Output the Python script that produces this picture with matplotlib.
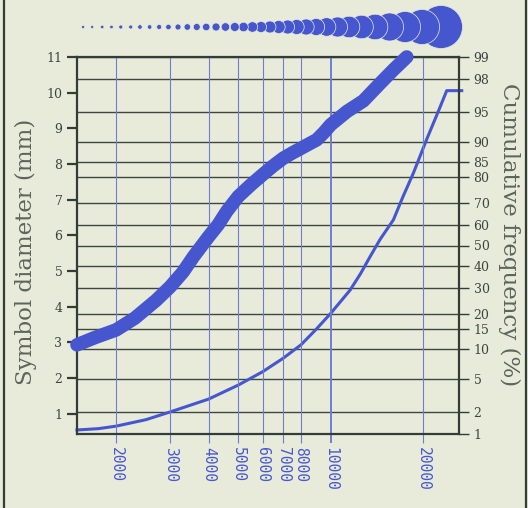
import numpy as np
import matplotlib
matplotlib.use("Agg")
import matplotlib.pyplot as plt
from matplotlib.ticker import FixedLocator, NullLocator
from matplotlib.lines import Line2D
from statistics import NormalDist

# ---------------- data ----------------
x_ticks = [2000, 3000, 4000, 5000, 6000, 7000, 8000, 10000, 20000]
x_tick_labels = ["2000", "3000", "4000", "5000", "6000", "7000", "8000", "10000", "20000"]
left_ticks = [1, 2, 3, 4, 5, 6, 7, 8, 9, 10, 11]
right_ticks = [1, 2, 5, 10, 15, 20, 30, 40, 50, 60, 70, 80, 85, 90, 95, 98, 99]
right_tick_labels = ["1", "2", "5", "10", "15", "20", "30", "40", "50", "60",
                     "70", "80", "85", "90", "95", "98", "99"]

# symbol diameter (mm) vs value (thick curve)
diam_x = [1490, 1700, 2000, 2300, 2700, 3000, 3300, 3570, 3990, 4300, 4590,
          5000, 5500, 6000, 6500, 7000, 7500, 8000, 9010, 9500, 10000, 11290,
          12780, 14490, 16010, 17700]
diam_mm = [2.93, 3.13, 3.35, 3.68, 4.18, 4.56, 4.97, 5.40, 5.95, 6.30, 6.68,
           7.09, 7.42, 7.70, 7.95, 8.16, 8.31, 8.44, 8.68, 8.88, 9.10, 9.47,
           9.77, 10.26, 10.64, 11.0]

# cumulative frequency (%) vs value (thin curve)
cum_x = [1490, 1750, 2000, 2500, 3000, 4000, 5000, 6000, 7000, 8000, 9000,
         10000, 11570, 12500, 13440, 14490, 16010, 17200, 18600, 20560, 22720,
         23890, 26740]
cum_pct = [1.14, 1.19, 1.29, 1.58, 2.0, 2.9, 4.25, 5.96, 8.2, 11.0, 15.2,
           20.1, 29.1, 36.3, 44.5, 53.0, 62.4, 72.6, 81.4, 90.5, 95.6,
           97.2, 97.2]

# legend row of symbols: value and symbol diameter (px)
sym_x = [1560, 1670, 1800, 1930, 2070, 2230, 2390, 2570, 2760, 2960, 3180,
         3410, 3660, 3930, 4230, 4540, 4870, 5200, 5560, 5930, 6340, 6770,
         7240, 7750, 8320, 8970, 9700, 10530, 11480, 12610, 13960, 15560,
         17480, 19860, 22890]
sym_d = [3, 3, 3.5, 3.5, 4, 4, 4.5, 4.5, 5, 5.5, 6, 6.5, 7, 7.5, 8, 8.5, 9,
         9.5, 10.5, 11, 12, 13, 14, 15, 16, 17, 18.5, 20, 21.5, 23.5, 25.5,
         28, 31, 35, 43]

# ---------------- style ----------------
bg = "#e8ebd9"
blue = "#4656cf"
gridblue = "#6f7cd6"
dark = "#333d37"
textc = "#3b4540"
labelc = "#5c645e"

_nd = NormalDist()
_ppf = np.vectorize(lambda q: _nd.inv_cdf(q) if 0 < q < 1 else np.nan, otypes=[float])
_cdf = np.vectorize(lambda z: _nd.cdf(z) if np.isfinite(z) else (1.0 if z > 0 else 0.0), otypes=[float])


def _fwd(p):
    p = np.asarray(p, dtype=float)
    q = np.clip(p / 100.0, 1e-9, 1 - 1e-9)
    return _ppf(q)


def _inv(z):
    z = np.asarray(z, dtype=float)
    return 100.0 * _cdf(z)


fig = plt.figure(figsize=(5.28, 5.08), dpi=100, facecolor=bg)
ax = fig.add_axes([77 / 528, 74 / 508, 382 / 528, 377 / 508])
ax2 = ax.twinx()
ax.set_zorder(ax2.get_zorder() + 1)
ax.patch.set_visible(False)
ax2.patch.set_visible(False)

ax.set_xscale("log")
ax.set_xlim(1490, 26200)
ax.set_ylim(0.43, 11)

ax2.set_yscale("function", functions=(_fwd, _inv))
ax2.set_ylim(1, 99)

# x axis
ax.xaxis.set_major_locator(FixedLocator(x_ticks))
ax.xaxis.set_minor_locator(NullLocator())
ax.set_xticklabels(x_tick_labels, rotation=-90, family="DejaVu Sans Mono",
                   fontsize=10.5, color=blue)
ax.tick_params(axis="x", direction="out", length=6.5, width=0.8, color=gridblue, pad=3)
ax.grid(axis="x", color=gridblue, lw=0.8)

# left y axis
ax.set_yticks(left_ticks)
ax.yaxis.set_minor_locator(NullLocator())
ax.set_yticklabels([str(v) for v in left_ticks], family="DejaVu Serif",
                   fontsize=9, color=textc)
ax.tick_params(axis="y", direction="out", length=7.5, width=1.6, color=dark, pad=3)

# right probability axis
ax2.yaxis.set_major_locator(FixedLocator(right_ticks))
ax2.yaxis.set_minor_locator(NullLocator())
ax2.set_yticklabels(right_tick_labels, family="DejaVu Serif", fontsize=9, color=textc)
ax2.tick_params(axis="y", direction="out", length=7.5, width=1.0, color=dark, pad=3)
ax2.grid(axis="y", color="#3d4741", lw=1.0)

for s in ax.spines.values():
    s.set_linewidth(1.6)
    s.set_color(dark)
for s in ax2.spines.values():
    s.set_visible(False)

tk = ax.xaxis.get_major_ticks()
tk[x_ticks.index(10000)].gridline.set_linewidth(1.4)
tk[x_ticks.index(10000)].tick1line.set_markeredgewidth(1.4)

# curves
ax.plot(diam_x, diam_mm, color=blue, lw=9.8, solid_capstyle="round",
        solid_joinstyle="round", clip_on=False, zorder=3)
ax2.plot(cum_x, cum_pct, color=blue, lw=2.2, clip_on=False, zorder=3,
         solid_joinstyle="round")

# legend row of symbols (largest drawn first)
n = len(sym_x)
ax.scatter(sym_x[::-1], [1.0796] * n, s=[(d * 0.72) ** 2 for d in sym_d[::-1]],
           transform=ax.get_xaxis_transform(), clip_on=False, color=blue,
           edgecolors=bg, linewidths=0.5, zorder=4)

# axis labels
ax.set_ylabel("Symbol diameter (mm)", family="DejaVu Serif", fontsize=16.5, color=labelc)
ax.yaxis.set_label_coords(-0.104, 0.483)
ax2.set_ylabel("Cumulative frequency (%)", family="DejaVu Serif", fontsize=16.5,
               color=labelc, rotation=-90, va="bottom", ha="center")
ax2.yaxis.set_label_coords(1.103, 0.528)

# outer frame lines
fig.add_artist(Line2D([4 / 528, 4 / 528], [0, 1], transform=fig.transFigure, color=dark, lw=1.6))
fig.add_artist(Line2D([525.5 / 528, 525.5 / 528], [0, 1], transform=fig.transFigure, color=dark, lw=1.6))

fig.savefig("out.png", dpi=100, facecolor=bg)
